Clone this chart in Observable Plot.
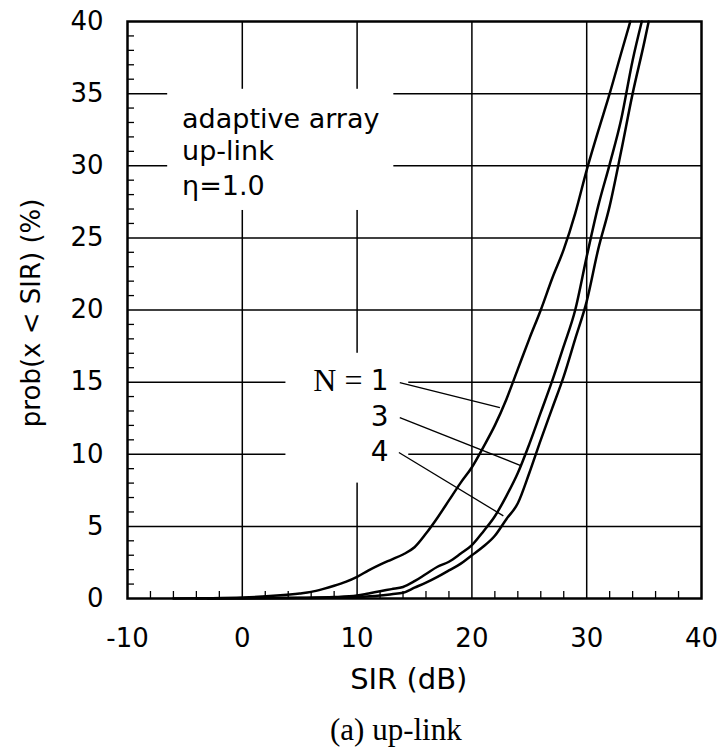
<!DOCTYPE html>
<html><head><meta charset="utf-8">
<script src="https://cdn.jsdelivr.net/npm/d3@7"></script>
<script src="https://cdn.jsdelivr.net/npm/@observablehq/plot@0.6"></script>
<style>
body{margin:0;background:#fff;overflow:hidden}
#chart{position:relative;width:722px;height:753px;background:#fff}
#caption{position:absolute;left:330px;top:714px;font-family:"Liberation Serif",serif;font-size:31px;line-height:1;color:#000;white-space:nowrap}
</style></head><body>
<div id="chart"><div id="caption">(a) up-link</div></div>
<script>
// Axis ticks
const xTicks = [-10, 0, 10, 20, 30, 40];
const yTicks = [0, 5, 10, 15, 20, 25, 30, 35, 40];
const xGrid = [0, 10, 20, 30];
const yGrid = [5, 10, 15, 20, 25, 30, 35];
const xMinor = [-8,-6,-4,-2,2,4,6,8,12,14,16,18,22,24,26,28,32,34,36,38];
const yMinor = [1,2,3,4,6,7,8,9,11,12,13,14,16,17,18,19,21,22,23,24,26,27,28,29,31,32,33,34,36,37,38,39];

// Series: N = 1
const sirN1 = [-6,-3,0,3,5,6,7,8,9,10,11,12,13,14,15,16,17,18,19,20,21,22,23,24,25,26,27,28,29,30,31,32,33,33.8];
const probN1 = [0,0.02,0.07,0.2,0.35,0.46,0.65,0.88,1.15,1.5,1.95,2.35,2.7,3.05,3.55,4.5,5.6,6.8,8.0,9.1,10.5,12.0,13.8,15.9,18.0,20.0,22.2,24.2,26.7,29.7,32.4,35.0,37.8,40];
// Series: N = 3
const sirN3 = [-4,0,5,8,10,11,12,13,14,15,16,17,18,19,20,21,22,23,24,25,26,27,28,29,30,31,32,33,34,34.8];
const probN3 = [0,0.02,0.05,0.1,0.2,0.35,0.5,0.65,0.8,1.2,1.7,2.2,2.55,3.1,3.7,4.65,5.7,7.1,8.7,10.7,12.9,15.1,17.5,20.0,23.7,27.2,30.1,33.2,37.3,40];
// Series: N = 4
const sirN4 = [-3,0,5,10,12,13,14,15,16,17,18,19,20,21,22,23,24,25,26,27,28,29,30,31,32,33,34,35,35.4];
const probN4 = [0,0.01,0.03,0.1,0.2,0.3,0.4,0.75,1.1,1.5,1.95,2.4,3.0,3.6,4.35,5.5,6.6,8.7,11.0,13.2,15.4,18.0,20.6,24.2,27.2,31.0,35.0,38.5,40];

// Annotation text
const noteLines = ["adaptive array", "up-link", "η=1.0"];
const noteX = -5.25;
const noteY = [33.2, 31.0, 28.6];

// Curve labels and leader lines
const labelNums = ["1", "3", "4"];
const labelX = 12.74;
const labelY = [15.09, 12.59, 10.12];
const labelPrefix = "N =";
const prefixX = 10.47;
const leadX1 = [13.72, 13.72, 13.64];
const leadY1 = [14.97, 12.54, 10.12];
const leadX2 = [22.44, 24.31, 22.74];
const leadY2 = [13.24, 9.2, 5.73];

// White boxes behind text blocks (gridlines interrupted)
const boxX1 = [-6.5, 3.8];
const boxX2 = [13.2, 14.5];
const boxY1 = [26.9, 8.0];
const boxY2 = [35.3, 17.0];

const xTitle = "SIR (dB)";
const yTitle = "prob(x < SIR) (%)";

const toRows = (xs, ys, n) => xs.map((x, i) => ({x, y: ys[i], n}));
const curves = [
  ...toRows(sirN1, probN1, "1"),
  ...toRows(sirN3, probN3, "3"),
  ...toRows(sirN4, probN4, "4")
];
const leaders = leadX1.map((x, i) => ({x1: x, y1: leadY1[i], x2: leadX2[i], y2: leadY2[i]}));
const boxes = boxX1.map((x, i) => ({x1: x, x2: boxX2[i], y1: boxY1[i], y2: boxY2[i]}));
const notes = noteLines.map((t, i) => ({t, x: noteX, y: noteY[i]}));
const labels = labelNums.map((t, i) => ({t, x: labelX, y: labelY[i]}));

const sans = "DejaVu Sans";
const chart = Plot.plot({
  width: 722,
  height: 700,
  marginLeft: 127,
  marginRight: 21,
  marginTop: 21,
  marginBottom: 102,
  style: {fontFamily: sans, fontSize: "26px", color: "#000", background: "#fff"},
  x: {domain: [-10, 40]},
  y: {domain: [0, 40]},
  marks: [
    Plot.ruleX(xGrid, {stroke: "#000", strokeWidth: 1.5}),
    Plot.ruleY(yGrid, {stroke: "#000", strokeWidth: 1.5}),
    Plot.rect(boxes, {x1: "x1", x2: "x2", y1: "y1", y2: "y2", fill: "#fff"}),
    Plot.axisX(xMinor, {anchor: "bottom", tickSize: -7, tickFormat: () => "", label: null, strokeWidth: 1.3}),
    Plot.axisY(yMinor, {anchor: "left", tickSize: -7, tickFormat: () => "", label: null, strokeWidth: 1.3}),
    Plot.axisX(xTicks, {anchor: "bottom", tickSize: 0, tickPadding: 30, tickFormat: d => String(d), label: null, fontSize: 26}),
    Plot.axisY(yTicks, {anchor: "left", tickSize: 0, tickPadding: 24, tickFormat: d => String(d), label: null, fontSize: 26}),
    Plot.frame({stroke: "#000", strokeWidth: 2.5}),
    Plot.line(curves, {x: "x", y: "y", z: "n", stroke: "#000", strokeWidth: 2.5, curve: "monotone-x"}),
    Plot.link(leaders, {x1: "x1", y1: "y1", x2: "x2", y2: "y2", stroke: "#000", strokeWidth: 1.3}),
    Plot.text(notes, {x: "x", y: "y", text: "t", textAnchor: "start", fontSize: 27, fill: "#000"}),
    Plot.text(labels, {x: "x", y: "y", text: "t", textAnchor: "end", fontSize: 28, fill: "#000"}),
    Plot.text([labelPrefix], {x: prefixX, y: labelY[0], text: d => d, textAnchor: "end", fontSize: 32, fontFamily: "Liberation Serif", fill: "#000"}),
    Plot.text([xTitle], {x: 14.5, frameAnchor: "bottom", dy: 81, text: d => d, textAnchor: "middle", lineAnchor: "middle", fontSize: 29, fill: "#000"}),
    Plot.text([yTitle], {y: 19.8, frameAnchor: "left", dx: -96, rotate: -90, text: d => d, textAnchor: "middle", lineAnchor: "middle", fontSize: 26, fill: "#000"})
  ]
});
document.getElementById("chart").prepend(chart);
</script>
</body></html>
